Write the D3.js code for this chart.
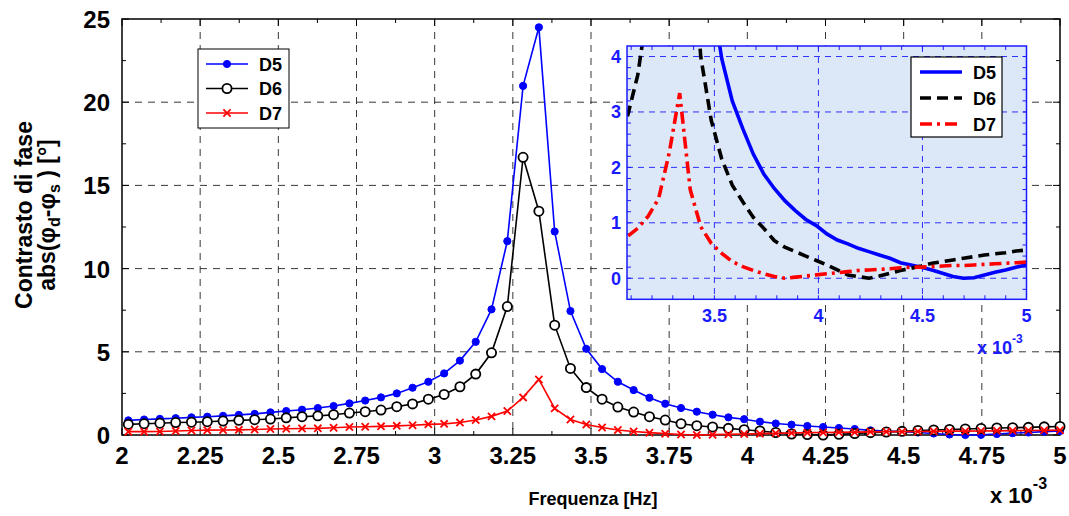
<!DOCTYPE html>
<html>
<head>
<meta charset="utf-8">
<script src="https://cdn.jsdelivr.net/npm/d3@7"></script>
<style>
  html, body { margin: 0; padding: 0; background: #fff; }
  svg { display: block; font-family: "Liberation Sans", Arial, sans-serif; }
</style>
</head>
<body>
<div id="chart"></div>
<script>
// frequency in units of 1e-3 Hz
const freqs = [
  2.0202, 2.0707, 2.1212, 2.1717, 2.2222, 2.2727, 2.3232, 2.3737, 2.4242, 2.4747,
  2.5253, 2.5758, 2.6263, 2.6768, 2.7273, 2.7778, 2.8283, 2.8788, 2.9293, 2.9798,
  3.0303, 3.0808, 3.1313, 3.1818, 3.2323, 3.2828, 3.3333, 3.3838, 3.4343, 3.4848,
  3.5354, 3.5859, 3.6364, 3.6869, 3.7374, 3.7879, 3.8384, 3.8889, 3.9394, 3.9899,
  4.0404, 4.0909, 4.1414, 4.1919, 4.2424, 4.2929, 4.3434, 4.3939, 4.4444, 4.4949,
  4.5455, 4.5960, 4.6465, 4.6970, 4.7475, 4.7980, 4.8485, 4.8990, 4.9495, 5.0000
];

const d5Values = [
  0.88, 0.93, 0.97, 1.01, 1.06, 1.10, 1.15, 1.21, 1.27, 1.36,
  1.44, 1.52, 1.62, 1.74, 1.90, 2.07, 2.26, 2.50, 2.84, 3.20,
  3.70, 4.47, 5.60, 7.55, 11.65, 20.98, 24.50, 12.23, 7.45, 5.18,
  3.96, 3.20, 2.70, 2.24, 1.88, 1.62, 1.40, 1.22, 1.06, 0.95,
  0.80, 0.69, 0.62, 0.54, 0.48, 0.42, 0.36, 0.28, 0.24, 0.20,
  0.15, 0.09, 0.03, 0.00, 0.01, 0.06, 0.11, 0.15, 0.20, 0.24
];

const d6Values = [
  0.64, 0.68, 0.71, 0.75, 0.77, 0.80, 0.84, 0.88, 0.92, 0.96,
  1.03, 1.10, 1.15, 1.22, 1.32, 1.40, 1.50, 1.70, 1.87, 2.15,
  2.44, 2.90, 3.66, 4.94, 7.72, 16.69, 13.45, 6.60, 4.00, 2.85,
  2.15, 1.68, 1.38, 1.10, 0.90, 0.68, 0.56, 0.48, 0.40, 0.32,
  0.24, 0.15, 0.06, 0.03, 0.00, 0.04, 0.09, 0.14, 0.18, 0.22,
  0.27, 0.30, 0.33, 0.36, 0.39, 0.42, 0.44, 0.46, 0.49, 0.51
];

const d7Values = [
  0.20, 0.20, 0.21, 0.24, 0.27, 0.29, 0.30, 0.31, 0.33, 0.36,
  0.38, 0.39, 0.40, 0.44, 0.48, 0.50, 0.52, 0.55, 0.59, 0.64,
  0.67, 0.75, 0.90, 1.12, 1.44, 2.26, 3.34, 1.60, 0.93, 0.63,
  0.45, 0.30, 0.21, 0.14, 0.08, 0.03, 0.00, 0.02, 0.04, 0.06,
  0.08, 0.10, 0.12, 0.14, 0.15, 0.16, 0.17, 0.19, 0.20, 0.20,
  0.21, 0.22, 0.23, 0.23, 0.24, 0.25, 0.26, 0.27, 0.28, 0.29
];

const seriesNames = ["D5", "D6", "D7"];
const seriesColors = ["#0000ff", "#000000", "#ff0000"];

const xTicks = [2, 2.25, 2.5, 2.75, 3, 3.25, 3.5, 3.75, 4, 4.25, 4.5, 4.75, 5];
const yTicks = [0, 5, 10, 15, 20, 25];
const insetXTicks = [3.5, 4, 4.5, 5];
const insetYTicks = [0, 1, 2, 3, 4];

const width = 1069;
const height = 516;
const plot = { left: 122, right: 1060, top: 19, bottom: 435 };
const inset = { left: 627, right: 1026.5, top: 46, bottom: 299.3 };

const series = seriesNames.map((name, i) => ({
  name,
  color: seriesColors[i],
  values: [d5Values, d6Values, d7Values][i].map((v, j) => ({ f: freqs[j], v })),
}));

const svg = d3
  .select("#chart")
  .append("svg")
  .attr("width", width)
  .attr("height", height);

const x = d3.scaleLinear().domain([2, 5]).range([plot.left, plot.right]);
const y = d3.scaleLinear().domain([0, 25]).range([plot.bottom, plot.top]);

// grid
const grid = svg.append("g").attr("stroke", "#222").attr("stroke-width", 0.9).attr("stroke-dasharray", "7,6");
grid.selectAll(".gx")
  .data(xTicks.slice(1, -1))
  .join("line")
  .attr("x1", (d) => x(d)).attr("x2", (d) => x(d))
  .attr("y1", plot.top).attr("y2", plot.bottom);
grid.selectAll(".gy")
  .data(yTicks.slice(1, -1))
  .join("line")
  .attr("x1", plot.left).attr("x2", plot.right)
  .attr("y1", (d) => y(d)).attr("y2", (d) => y(d));

// ticks (inward, all four sides)
const ticks = svg.append("g").attr("stroke", "#000").attr("stroke-width", 1);
const xMinor = d3.range(2, 5.001, 0.125);
const yMinor = d3.range(0, 25.001, 2.5);
xMinor.forEach((t) => {
  const len = Math.abs(t * 4 - Math.round(t * 4)) < 1e-6 ? 7 : 4;
  ticks.append("line").attr("x1", x(t)).attr("x2", x(t)).attr("y1", plot.bottom).attr("y2", plot.bottom - len);
  ticks.append("line").attr("x1", x(t)).attr("x2", x(t)).attr("y1", plot.top).attr("y2", plot.top + len);
});
yMinor.forEach((t) => {
  const len = t % 5 === 0 ? 7 : 4;
  ticks.append("line").attr("y1", y(t)).attr("y2", y(t)).attr("x1", plot.left).attr("x2", plot.left + len);
  ticks.append("line").attr("y1", y(t)).attr("y2", y(t)).attr("x1", plot.right).attr("x2", plot.right - len);
});

// axes frame
svg.append("rect")
  .attr("x", plot.left).attr("y", plot.top)
  .attr("width", plot.right - plot.left).attr("height", plot.bottom - plot.top)
  .attr("fill", "none").attr("stroke", "#000").attr("stroke-width", 1.5);

// tick labels
svg.append("g")
  .selectAll("text")
  .data(xTicks)
  .join("text")
  .attr("x", (d) => x(d))
  .attr("y", plot.bottom + 29)
  .attr("text-anchor", "middle")
  .attr("font-size", 24).attr("font-weight", "bold")
  .text((d) => d);

svg.append("g")
  .selectAll("text")
  .data(yTicks)
  .join("text")
  .attr("x", plot.left - 12)
  .attr("y", (d) => y(d) + 9)
  .attr("text-anchor", "end")
  .attr("font-size", 24).attr("font-weight", "bold")
  .text((d) => d);

// axis titles
svg.append("text")
  .attr("x", 593).attr("y", 505)
  .attr("text-anchor", "middle")
  .attr("font-size", 18).attr("font-weight", "bold")
  .text("Frequenza [Hz]");

const xMult = svg.append("text")
  .attr("x", 990).attr("y", 503)
  .attr("font-size", 22).attr("font-weight", "bold");
xMult.append("tspan").text("x 10");
xMult.append("tspan").attr("dy", -14).attr("font-size", 16).text("-3");

const yTitle = svg.append("g").attr("transform", "translate(32,215) rotate(-90)");
yTitle.append("text")
  .attr("text-anchor", "middle")
  .attr("font-size", 23).attr("font-weight", "bold")
  .text("Contrasto di fase");
const yTitle2 = yTitle.append("text")
  .attr("y", 23)
  .attr("text-anchor", "middle")
  .attr("font-size", 23).attr("font-weight", "bold");
yTitle2.append("tspan").text("abs(φ");
yTitle2.append("tspan").attr("dy", 5).attr("font-size", 16).text("d");
yTitle2.append("tspan").attr("dy", -5).text("-φ");
yTitle2.append("tspan").attr("dy", 5).attr("font-size", 16).text("s");
yTitle2.append("tspan").attr("dy", -5).text(" ) [°]");

// main series
const line = d3.line().x((d) => x(d.f)).y((d) => y(d.v));

function drawMarker(g, name, color, cx, cy) {
  if (name === "D5") {
    g.append("circle").attr("cx", cx).attr("cy", cy).attr("r", 3.6).attr("fill", color).attr("stroke", color);
  } else if (name === "D6") {
    g.append("circle").attr("cx", cx).attr("cy", cy).attr("r", 4.6).attr("fill", "#fff").attr("stroke", color).attr("stroke-width", 1.8);
  } else {
    const s = 3.6;
    g.append("path")
      .attr("d", `M${cx - s},${cy - s}L${cx + s},${cy + s}M${cx - s},${cy + s}L${cx + s},${cy - s}`)
      .attr("stroke", color).attr("stroke-width", 1.8);
  }
}

series.forEach((s) => {
  const g = svg.append("g");
  g.append("path")
    .attr("d", line(s.values))
    .attr("fill", "none")
    .attr("stroke", s.color)
    .attr("stroke-width", 1.6);
  s.values.forEach((d) => drawMarker(g, s.name, s.color, x(d.f), y(d.v)));
});

// main legend
const legend = svg.append("g");
legend.append("rect")
  .attr("x", 198).attr("y", 49).attr("width", 91).attr("height", 79)
  .attr("fill", "#fff").attr("stroke", "#000").attr("stroke-width", 1);
series.forEach((s, i) => {
  const ly = 64 + i * 24.5;
  legend.append("line").attr("x1", 206).attr("x2", 248).attr("y1", ly).attr("y2", ly)
    .attr("stroke", s.color).attr("stroke-width", 1.6);
  drawMarker(legend, s.name, s.color, 227, ly);
  legend.append("text").attr("x", 259).attr("y", ly + 6.5)
    .attr("font-size", 18).attr("font-weight", "bold").text(s.name);
});

// inset
const xi = d3.scaleLinear().domain([3.08, 5]).range([inset.left, inset.right]);
const yi = d3.scaleLinear().domain([-0.38, 4.19]).range([inset.bottom, inset.top]);
const insetBlue = "#1a1aff";

svg.append("rect")
  .attr("x", inset.left).attr("y", inset.top)
  .attr("width", inset.right - inset.left).attr("height", inset.bottom - inset.top)
  .attr("fill", "#dce8f7");

svg.append("clipPath").attr("id", "inset-clip")
  .append("rect")
  .attr("x", inset.left).attr("y", inset.top)
  .attr("width", inset.right - inset.left).attr("height", inset.bottom - inset.top);

const igrid = svg.append("g").attr("stroke", insetBlue).attr("stroke-width", 0.9).attr("stroke-dasharray", "6,5");
igrid.selectAll(".ix").data(insetXTicks.slice(0, -1)).join("line")
  .attr("x1", (d) => xi(d)).attr("x2", (d) => xi(d)).attr("y1", inset.top).attr("y2", inset.bottom);
igrid.selectAll(".iy").data(insetYTicks).join("line")
  .attr("x1", inset.left).attr("x2", inset.right).attr("y1", (d) => yi(d)).attr("y2", (d) => yi(d));

const iticks = svg.append("g").attr("stroke", insetBlue).attr("stroke-width", 1);
d3.range(3.1, 5.001, 0.1).forEach((t) => {
  iticks.append("line").attr("x1", xi(t)).attr("x2", xi(t)).attr("y1", inset.bottom).attr("y2", inset.bottom - 4);
  iticks.append("line").attr("x1", xi(t)).attr("x2", xi(t)).attr("y1", inset.top).attr("y2", inset.top + 4);
});
d3.range(-0.2, 4.19, 0.2).forEach((t) => {
  iticks.append("line").attr("y1", yi(t)).attr("y2", yi(t)).attr("x1", inset.left).attr("x2", inset.left + 4);
  iticks.append("line").attr("y1", yi(t)).attr("y2", yi(t)).attr("x1", inset.right).attr("x2", inset.right - 4);
});

const iline = d3.line().x((d) => xi(d.f)).y((d) => yi(d.v));
const insetDash = ["none", "11,6", "12,5,3,5"];
const ig = svg.append("g").attr("clip-path", "url(#inset-clip)");
series.forEach((s, i) => {
  ig.append("path")
    .attr("d", iline(s.values))
    .attr("fill", "none")
    .attr("stroke", s.color)
    .attr("stroke-width", 3.6)
    .attr("stroke-dasharray", insetDash[i]);
});

svg.append("rect")
  .attr("x", inset.left).attr("y", inset.top)
  .attr("width", inset.right - inset.left).attr("height", inset.bottom - inset.top)
  .attr("fill", "none").attr("stroke", insetBlue).attr("stroke-width", 1.5);

svg.append("g").selectAll("text").data(insetXTicks).join("text")
  .attr("x", (d) => xi(d)).attr("y", inset.bottom + 23)
  .attr("text-anchor", "middle").attr("fill", insetBlue)
  .attr("font-size", 18).attr("font-weight", "bold")
  .text((d) => d);

svg.append("g").selectAll("text").data(insetYTicks).join("text")
  .attr("x", inset.left - 6).attr("y", (d) => yi(d) + 6.5)
  .attr("text-anchor", "end").attr("fill", insetBlue)
  .attr("font-size", 18).attr("font-weight", "bold")
  .text((d) => d);

const iMult = svg.append("text")
  .attr("x", 977).attr("y", 354).attr("fill", insetBlue)
  .attr("font-size", 18).attr("font-weight", "bold");
iMult.append("tspan").text("x 10");
iMult.append("tspan").attr("dy", -11).attr("font-size", 12).text("-3");

// inset legend
const ilegend = svg.append("g");
ilegend.append("rect")
  .attr("x", 911).attr("y", 57).attr("width", 91).attr("height", 80)
  .attr("fill", "#fff").attr("stroke", "#000").attr("stroke-width", 1.2);
series.forEach((s, i) => {
  const ly = 72 + i * 26;
  ilegend.append("line").attr("x1", 920).attr("x2", 962).attr("y1", ly).attr("y2", ly)
    .attr("stroke", s.color).attr("stroke-width", 3.6).attr("stroke-dasharray", insetDash[i]);
  ilegend.append("text").attr("x", 973).attr("y", ly + 6.5)
    .attr("font-size", 18).attr("font-weight", "bold").text(s.name);
});
</script>
</body>
</html>
